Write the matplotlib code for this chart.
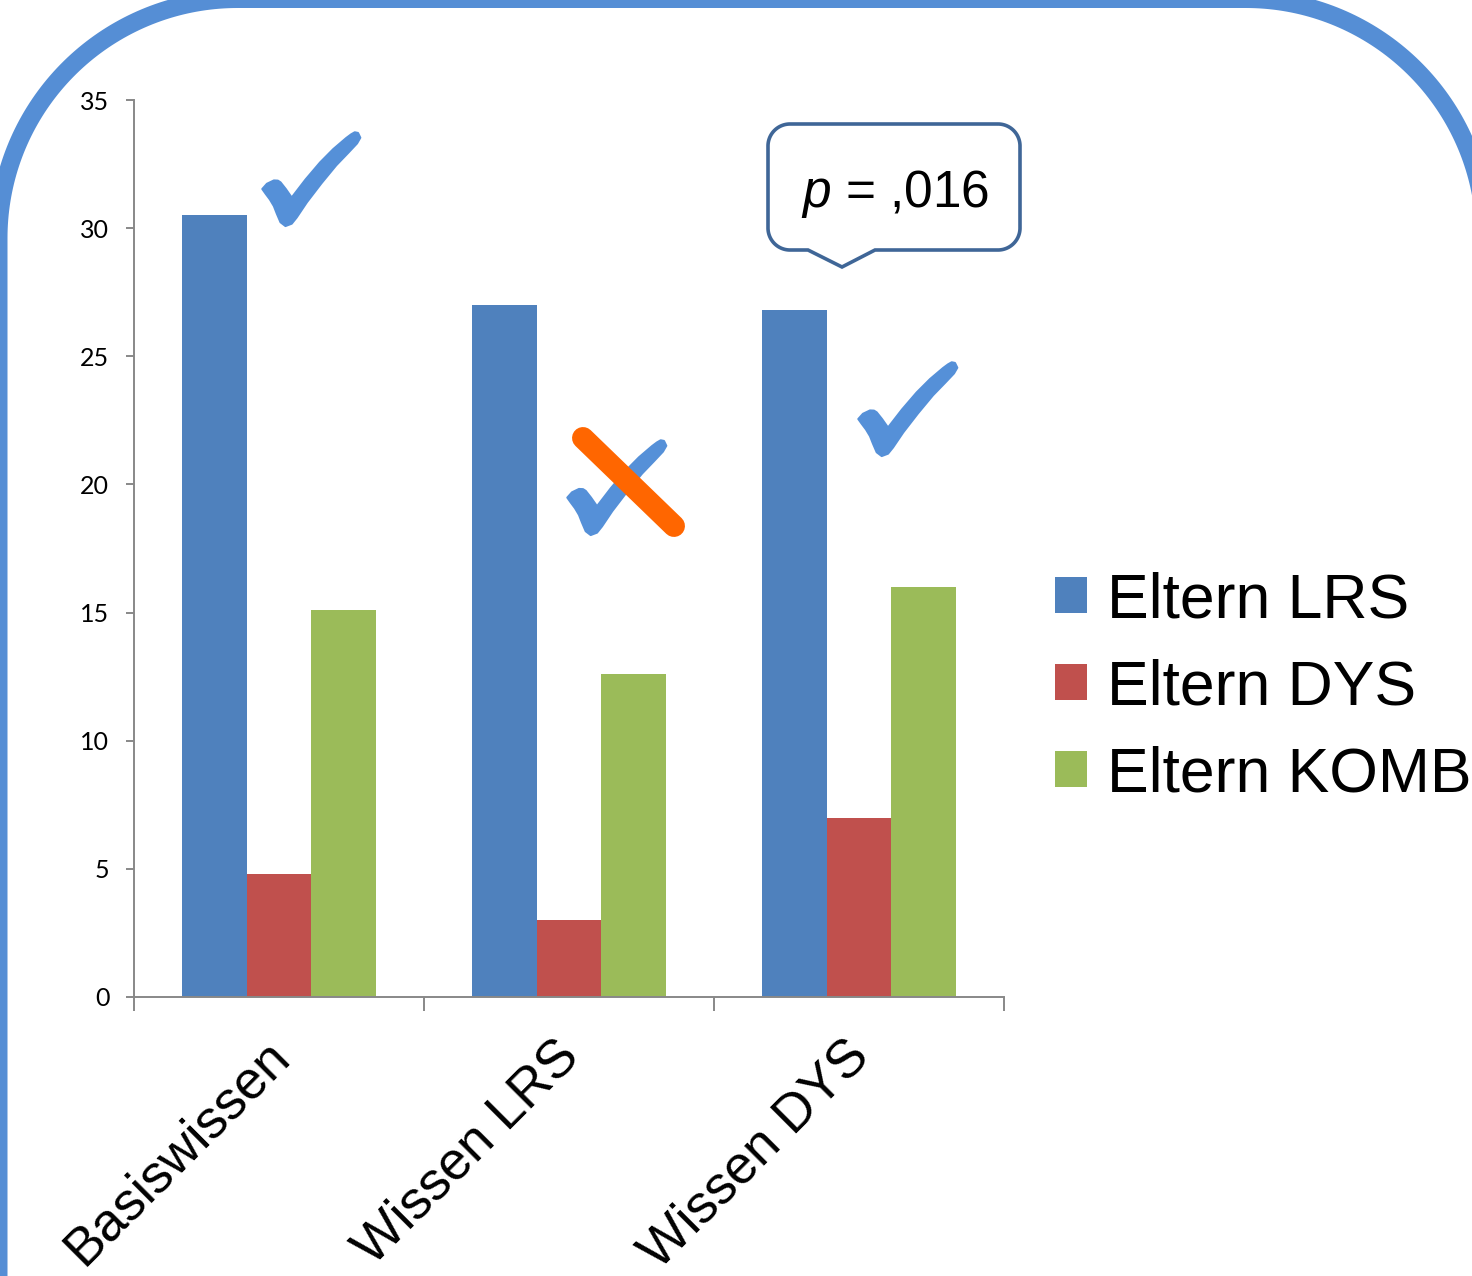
import numpy as np
import matplotlib
matplotlib.use("Agg")
import matplotlib.pyplot as plt
from matplotlib.patches import Polygon, PathPatch
from matplotlib.path import Path
from matplotlib.lines import Line2D
from matplotlib.transforms import IdentityTransform

# ---- data ----
categories = ["Basiswissen", "Wissen LRS", "Wissen DYS"]
series_names = ["Eltern LRS", "Eltern DYS", "Eltern KOMB"]
eltern_lrs = [30.5, 27.0, 26.8]
eltern_dys = [4.8, 3.0, 7.0]
eltern_komb = [15.1, 12.6, 16.0]
y_ticks = [0, 5, 10, 15, 20, 25, 30, 35]
p_value_text = ",016"

plt.rcParams["mathtext.fontset"] = "custom"
plt.rcParams["mathtext.it"] = "Liberation Sans:italic"
plt.rcParams["mathtext.rm"] = "Liberation Sans"

W, H = 1472, 1276
fig = plt.figure(figsize=(W / 100, H / 100), dpi=100)
fig.patch.set_facecolor("white")


def px(points):
    """Convert (x, y-from-top) pixel pairs to display coordinates."""
    return [(x, H - y) for x, y in points]


def rounded_outline(x0, y0, x1, y1, r, bottom_notch=None, n=80):
    pts = []

    def arc(cx, cy, a0, a1):
        for a in np.linspace(a0, a1, n):
            pts.append((cx + r * np.cos(a), cy + r * np.sin(a)))

    # y grows downward here; angles measured accordingly
    arc(x1 - r, y0 + r, -np.pi / 2, 0)          # top-right
    arc(x1 - r, y1 - r, 0, np.pi / 2)           # bottom-right
    if bottom_notch is not None:
        pts.extend(bottom_notch)
    arc(x0 + r, y1 - r, np.pi / 2, np.pi)       # bottom-left
    arc(x0 + r, y0 + r, np.pi, 1.5 * np.pi)     # top-left
    pts.append(pts[0])
    return pts


# ---- outer rounded frame (filled ring so it survives canvas clipping) ----
fx0, fy0, fx1, fy1, fr, half = -1.5, -1.0, 1485.0, 1800.0, 239.0, 9.0
outer = px(rounded_outline(fx0 - half, fy0 - half, fx1 + half, fy1 + half, fr + half))
inner = px(rounded_outline(fx0 + half, fy0 + half, fx1 - half, fy1 - half, fr - half))[::-1]
verts = outer + inner
codes = ([Path.MOVETO] + [Path.LINETO] * (len(outer) - 2) + [Path.CLOSEPOLY]
         + [Path.MOVETO] + [Path.LINETO] * (len(inner) - 2) + [Path.CLOSEPOLY])
fig.add_artist(PathPatch(Path(verts, codes), facecolor="#558ED5", edgecolor="none",
                         transform=IdentityTransform(), zorder=0.5))

# ---- bar chart ----
ax = fig.add_axes([134 / W, 1 - 997 / H, (1004 - 134) / W, (997 - 100) / H])
ax.set_facecolor("none")
colors = ["#4F81BD", "#C0504D", "#9BBB59"]
centers = np.arange(len(categories)) + 0.5
bw = 0.222
for i, (vals, name, c) in enumerate(zip([eltern_lrs, eltern_dys, eltern_komb],
                                        series_names, colors)):
    ax.bar(centers + (i - 1) * bw, vals, width=bw, color=c, label=name,
           linewidth=0, zorder=2)

ax.set_xlim(0, len(categories))
ax.set_ylim(0, 35)
for s in ["top", "right"]:
    ax.spines[s].set_visible(False)
for s in ["left", "bottom"]:
    ax.spines[s].set_color("#888888")
    ax.spines[s].set_linewidth(1.4)

ax.set_yticks(y_ticks)
ax.set_yticklabels([str(v) for v in y_ticks], fontfamily="Lato", fontsize=18)
ax.tick_params(axis="y", direction="out", length=5.8, width=1.4, color="#888888",
               pad=12)

ax.set_xticks(np.arange(len(categories) + 1))
ax.set_xticklabels([])
ax.tick_params(axis="x", which="major", direction="out", length=10, width=1.4,
               color="#888888")

# rotated category labels, right end anchored below each group centre
for xc, name in zip(centers, categories):
    ax.annotate(name, xy=(xc, 0), xycoords=ax.get_xaxis_transform(),
                xytext=(-11, -24), textcoords="offset points",
                rotation=45, rotation_mode="anchor", ha="right", va="top",
                fontfamily="Liberation Sans", fontsize=38.5, annotation_clip=False)

leg = ax.legend(loc="center left", bbox_to_anchor=(1055 / W, 1 - 688 / H),
                bbox_transform=fig.transFigure, frameon=False,
                prop={"family": "Liberation Sans", "size": 45},
                handlelength=0.51, handleheight=0.51, handletextpad=0.32,
                labelspacing=0.45, borderpad=0, borderaxespad=0)

# ---- check marks ----
check_shape = np.array([
    (0.003, 0.60), (0.05, 0.545), (0.12, 0.51), (0.16, 0.512), (0.187, 0.53),
    (0.24, 0.60), (0.30, 0.69), (0.44, 0.50), (0.587, 0.32), (0.72, 0.18),
    (0.85, 0.064), (0.90, 0.025), (0.937, 0.003), (0.97, 0.01), (0.993, 0.06),
    (0.96, 0.12), (0.87, 0.22), (0.75, 0.35), (0.60, 0.54), (0.453, 0.74),
    (0.35, 0.90), (0.30, 0.965), (0.237, 0.99), (0.187, 0.95), (0.15, 0.86),
    (0.12, 0.78), (0.08, 0.71), (0.037, 0.65),
])
check_boxes = [(262, 132, 361, 227), (567, 440, 667, 536), (858, 362, 958, 457)]
for x0, y0, x1, y1 in check_boxes:
    pts = [(x0 + u * (x1 - x0), y0 + v * (y1 - y0)) for u, v in check_shape]
    fig.add_artist(Polygon(px(pts), closed=True, facecolor="#5590D8",
                           edgecolor="#5590D8", lw=1.5, joinstyle="round",
                           transform=IdentityTransform(), zorder=3))

# crossed-out mark
(xa, ya), (xb, yb) = px([(583, 438), (674, 526)])
fig.add_artist(Line2D([xa, xb], [ya, yb], color="#FF6600", lw=15.8,
                      solid_capstyle="round", transform=IdentityTransform(),
                      zorder=4))

# ---- p-value callout ----
notch = [(875, 250), (842, 267), (808, 250)]
callout_pts = px(rounded_outline(768, 124, 1020, 250, 22, bottom_notch=notch))
fig.add_artist(PathPatch(Path(callout_pts), facecolor="white", edgecolor="#3F6697",
                         lw=2.6, transform=IdentityTransform(), zorder=5))
fig.text(895 / W, 1 - 207 / H, r"$p$ = " + p_value_text, ha="center",
         va="baseline", fontfamily="Liberation Sans", fontsize=37, zorder=6)

fig.savefig("out.png", dpi=100, facecolor="white")
